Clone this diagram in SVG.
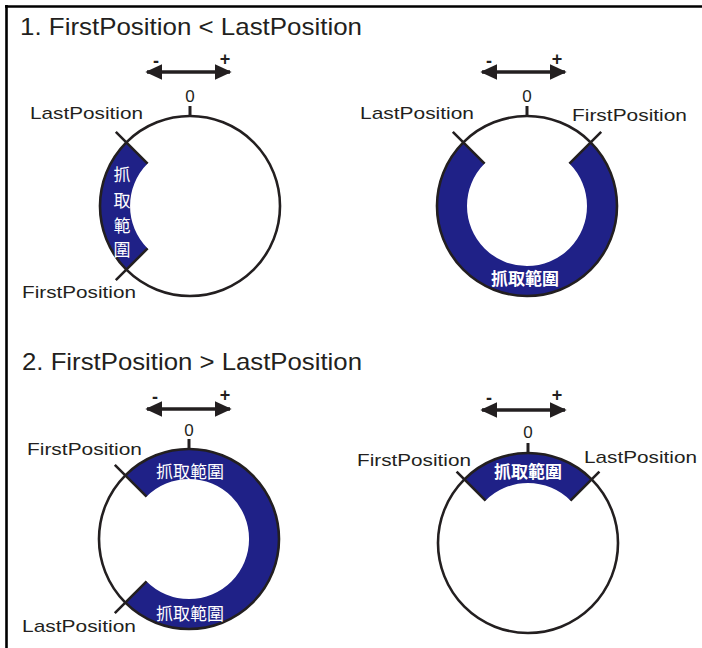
<svg xmlns="http://www.w3.org/2000/svg" width="702" height="648" viewBox="0 0 702 648">
<defs>
<style>
.ring{fill:none;stroke:#231f20;stroke-width:2.6}
.band{fill:#1f2187;stroke:none}
.cut{stroke:#231f20;stroke-width:2.6;fill:none}
.tick{stroke:#231f20;stroke-width:3}
.lbl{font-family:"Liberation Sans",Arial,sans-serif;font-size:17px;fill:#231f20}
.ttl{font-family:"Liberation Sans",Arial,sans-serif;font-size:24px;fill:#231f20}
.zero{font-family:"Liberation Sans",Arial,sans-serif;font-size:17px;fill:#231f20;text-anchor:middle}
.sign{font-family:"Liberation Sans",Arial,sans-serif;font-size:18px;font-weight:bold;fill:#231f20;text-anchor:middle}
.cjk{font-family:"Noto Sans CJK TC","Noto Sans CJK SC",sans-serif;font-size:17px;fill:#ffffff;text-anchor:middle;dominant-baseline:central}
.shaft{stroke:#231f20;stroke-width:3.4}
</style>
<marker id="ah" viewBox="0 0 10 10" refX="9" refY="5" markerWidth="17" markerHeight="17" markerUnits="userSpaceOnUse" orient="auto-start-reverse">
<path d="M0,0.3 L10,5 L0,9.7 Z" fill="#231f20"/>
</marker>
</defs>
<rect width="702" height="648" fill="#ffffff"/>
<path d="M5,6.5 H702 M6.5,5 V648" stroke="#000" stroke-width="2.6" fill="none"/>

<text class="ttl" x="20" y="35" textLength="342" lengthAdjust="spacingAndGlyphs">1. FirstPosition &lt; LastPosition</text>
<text class="ttl" x="22" y="370" textLength="340" lengthAdjust="spacingAndGlyphs">2. FirstPosition &gt; LastPosition</text>

<g id="connectors">
<line class="shaft" x1="147" y1="72" x2="230" y2="72" marker-start="url(#ah)" marker-end="url(#ah)"/>
<line class="shaft" x1="482" y1="72" x2="565" y2="72" marker-start="url(#ah)" marker-end="url(#ah)"/>
<line class="shaft" x1="147" y1="409" x2="230" y2="409" marker-start="url(#ah)" marker-end="url(#ah)"/>
<line class="shaft" x1="482" y1="410" x2="565" y2="410" marker-start="url(#ah)" marker-end="url(#ah)"/>
<text class="sign" x="156" y="67">-</text><text class="sign" x="225" y="65">+</text>
<text class="sign" x="489" y="67">-</text><text class="sign" x="557" y="65">+</text>
<text class="sign" x="155" y="403">-</text><text class="sign" x="225" y="401">+</text>
<text class="sign" x="489" y="404">-</text><text class="sign" x="557" y="401">+</text>
</g>

<g id="circle1">
<path class="band" d="M126.4,142.4 A90,90 0 0 0 126.4,269.6 L147.6,248.4 A60,60 0 0 1 147.6,163.6 Z"/>
<circle class="ring" cx="190" cy="206" r="90"/>
<line class="tick" x1="190" y1="106" x2="190" y2="116"/>
<path class="cut" d="M115.8,131.8 L147.6,163.6 M115.8,280.2 L147.6,248.4"/>
<text class="zero" x="190" y="102">0</text>
<text class="lbl" x="30" y="119" textLength="113" lengthAdjust="spacingAndGlyphs">LastPosition</text>
<text class="lbl" x="22" y="298" textLength="114" lengthAdjust="spacingAndGlyphs">FirstPosition</text>
<text class="cjk" x="122" y="173">抓</text>
<text class="cjk" x="122" y="199">取</text>
<text class="cjk" x="122" y="224">範</text>
<text class="cjk" x="122" y="248">圍</text>
</g>

<g id="circle2">
<path class="band" d="M463.4,142.4 A90,90 0 1 0 590.6,142.4 L569.4,163.6 A60,60 0 1 1 484.6,163.6 Z"/>
<circle class="ring" cx="527" cy="206" r="90"/>
<line class="tick" x1="527" y1="106" x2="527" y2="116"/>
<path class="cut" d="M452.8,131.8 L484.6,163.6 M601.2,131.8 L569.4,163.6"/>
<text class="zero" x="527" y="102">0</text>
<text class="lbl" x="360" y="119" textLength="114" lengthAdjust="spacingAndGlyphs">LastPosition</text>
<text class="lbl" x="572" y="121" textLength="115" lengthAdjust="spacingAndGlyphs">FirstPosition</text>
<text class="cjk" x="525" y="277" font-weight="bold" font-size="18">抓取範圍</text>
</g>

<g id="circle3">
<path class="band" d="M125.4,475.4 A90,90 0 1 1 125.4,602.6 L146.6,581.4 A60,60 0 1 0 146.6,496.6 Z"/>
<circle class="ring" cx="189" cy="539" r="90"/>
<line class="tick" x1="189" y1="439" x2="189" y2="449"/>
<path class="cut" d="M114.8,464.8 L146.6,496.6 M114.8,613.2 L146.6,581.4"/>
<text class="zero" x="189" y="436">0</text>
<text class="lbl" x="27" y="455" textLength="115" lengthAdjust="spacingAndGlyphs">FirstPosition</text>
<text class="lbl" x="22" y="632" textLength="114" lengthAdjust="spacingAndGlyphs">LastPosition</text>
<text class="cjk" x="190" y="470" font-size="18">抓取範圍</text>
<text class="cjk" x="190" y="612" font-size="18">抓取範圍</text>
</g>

<g id="circle4">
<path class="band" d="M464.4,479.4 A90,90 0 0 1 591.6,479.4 L570.4,500.6 A60,60 0 0 0 485.6,500.6 Z"/>
<circle class="ring" cx="528" cy="543" r="90"/>
<line class="tick" x1="528" y1="443" x2="528" y2="453"/>
<path class="cut" d="M456.6,471.6 L485.6,500.6 M599.4,471.6 L570.4,500.6"/>
<text class="zero" x="528" y="438">0</text>
<text class="lbl" x="357" y="466" textLength="114" lengthAdjust="spacingAndGlyphs">FirstPosition</text>
<text class="lbl" x="584" y="463" textLength="113" lengthAdjust="spacingAndGlyphs">LastPosition</text>
<text class="cjk" x="528" y="470" font-weight="bold" font-size="18">抓取範圍</text>
</g>
</svg>
